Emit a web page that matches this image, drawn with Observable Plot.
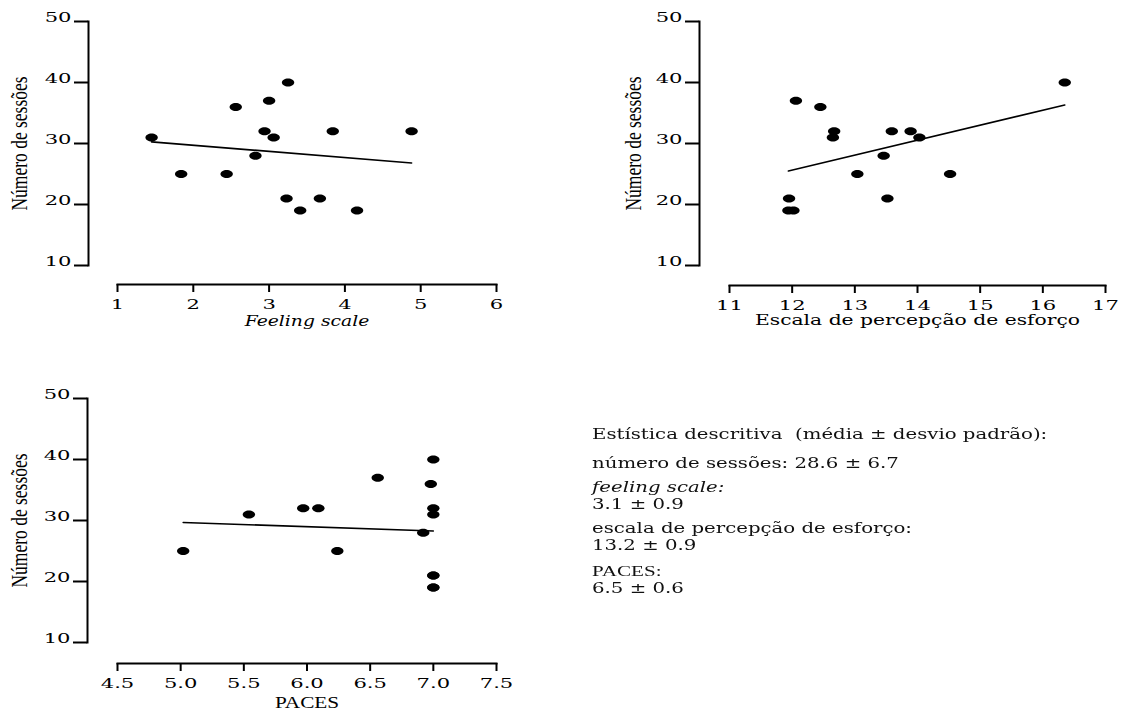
<!DOCTYPE html>
<html><head><meta charset="utf-8">
<script src="https://cdn.jsdelivr.net/npm/d3@7"></script>
<script src="https://cdn.jsdelivr.net/npm/@observablehq/plot@0.6"></script>
<style>
html,body{margin:0;padding:0;background:#fff;}
body{width:1126px;height:715px;position:relative;overflow:hidden;color:#000;}
.panel{position:absolute;}
#stats{position:absolute;left:592px;top:0;width:1px;font-family:"DejaVu Serif";font-size:14.5px;color:#111;transform:scaleX(1.36);transform-origin:0 0;}
.line{position:absolute;left:0;white-space:pre;line-height:14px;}
.times{font-family:"Liberation Serif";font-size:15.5px;}
</style></head><body>
<div id="p1" class="panel" style="left:0;top:0"></div>
<div id="p2" class="panel" style="left:600px;top:0"></div>
<div id="p3" class="panel" style="left:0;top:377px"></div>
<div id="stats"></div>
<script>
// ---- data ----
const yLabel = "Número de sessões";
const yTicks = [10, 20, 30, 40, 50];

const feelingX = [1.45,1.84,2.44,2.56,2.82,2.94,3.00,3.06,3.25,3.23,3.41,3.67,3.84,4.16,4.88];
const feelingY = [31,25,25,36,28,32,37,31,40,21,19,21,32,19,32];
const feelingTicks = [1,2,3,4,5,6];

const effortX = [11.95,11.94,12.02,12.06,12.45,12.67,12.65,13.04,13.46,13.52,13.59,13.89,14.03,14.52,16.35];
const effortY = [21,19,19,37,36,32,31,25,28,21,32,32,31,25,40];
const effortTicks = [11,12,13,14,15,16,17];

const pacesX = [5.02,5.54,5.97,6.09,6.24,6.56,6.92,6.98,7.00,7.00,7.00,7.00,7.00,7.00,7.00];
const pacesY = [25,31,32,32,25,37,28,36,40,32,31,21,21,19,19];
const pacesTicks = [4.5,5.0,5.5,6.0,6.5,7.0,7.5];

const statsTitle = "Estística descritiva  (média ± desvio padrão):";
const statNames = ["número de sessões:", "feeling scale:", "escala de percepção de esforço:", "PACES:"];
const statMeans = ["28.6", "3.1", "13.2", "6.5"];
const statSDs = ["6.7", "0.9", "0.9", "0.6"];

// ---- helpers ----
const ellipse = {
  draw(ctx, size) {
    const r = Math.sqrt(size / Math.PI);
    const rx = r * 1.55, ry = r * 1.0, k = 0.5523;
    ctx.moveTo(rx, 0);
    ctx.bezierCurveTo(rx, ry * k, rx * k, ry, 0, ry);
    ctx.bezierCurveTo(-rx * k, ry, -rx, ry * k, -rx, 0);
    ctx.bezierCurveTo(-rx, -ry * k, -rx * k, -ry, 0, -ry);
    ctx.bezierCurveTo(rx * k, -ry, rx, -ry * k, rx, 0);
    ctx.closePath();
  }
};

function stretchEl(el, sx, sy) {
  const t = el.getAttribute("transform") || "";
  const x = el.getAttribute("x"), y = el.getAttribute("y");
  let extra = "";
  if (x !== null || y !== null) {
    extra = ` translate(${+x || 0},${+y || 0})`;
    el.removeAttribute("x"); el.removeAttribute("y");
  }
  el.setAttribute("transform", `${t}${extra} scale(${sx},${sy})`);
}

function panel(o) {
  const data = o.xs.map((x, i) => ({x, y: o.ys[i]}));
  const svg = Plot.plot({
    width: o.width, height: 345,
    marginLeft: o.ml, marginRight: o.mr, marginTop: 21, marginBottom: 80,
    style: {fontFamily: "DejaVu Serif", fontSize: "13px", background: "transparent", overflow: "visible", color: "#000"},
    x: {domain: o.xDomain, label: null},
    y: {domain: [10, 50], label: null},
    marks: [
      Plot.frame({anchor: "left", dx: o.yDx, strokeWidth: 2}),
      Plot.axisY({ticks: yTicks, tickSize: 14, tickPadding: 3, dx: o.yDx, strokeWidth: 2, label: null}),
      Plot.frame({anchor: "bottom", dy: o.xDy, strokeWidth: 2}),
      Plot.axisX({ticks: o.xTicks, tickSize: 8, tickPadding: 16, dy: o.xDy, strokeWidth: 2, label: null, tickFormat: o.xFormat}),
      Plot.linearRegressionY(data, {x: "x", y: "y", ci: 0, stroke: "#000", strokeWidth: 1.6}),
      Plot.dot(data, {x: "x", y: "y", symbol: ellipse, r: 4, fill: "#000"}),
      Plot.text([yLabel], {frameAnchor: "left", dx: o.yLabelDx, rotate: -90, text: d => d,
        textAnchor: "middle", lineAnchor: "middle",
        fontFamily: "Liberation Serif", fontSize: 17.5}),
      Plot.text([o.xLabel], {frameAnchor: "bottom", dy: o.xLabelDy, text: d => d,
        textAnchor: "middle", lineAnchor: "middle",
        fontFamily: o.xLabelFont, fontSize: o.xLabelSize, fontStyle: o.xLabelStyle})
    ]
  });
  svg.querySelectorAll("text").forEach(el => {
    const s = el.textContent;
    if (s === yLabel) stretchEl(el, 1, 1.3);
    else if (s === o.xLabel) stretchEl(el, o.xLabelSx, 1);
    else stretchEl(el, 1.62, 1);
  });
  return svg;
}

document.getElementById("p1").append(panel({
  xs: feelingX, ys: feelingY, xDomain: [1, 6], xTicks: feelingTicks, xFormat: d3.format("d"),
  width: 540, ml: 117, mr: 44, yDx: -29, xDy: 19, yLabelDx: -91,
  xLabel: "Feeling scale", xLabelDy: 60, xLabelFont: "DejaVu Serif", xLabelSize: 14, xLabelStyle: "italic", xLabelSx: 1.34
}));
document.getElementById("p2").append(panel({
  xs: effortX, ys: effortY, xDomain: [11, 17], xTicks: effortTicks, xFormat: d3.format("d"),
  width: 526, ml: 129, mr: 21, yDx: -30, xDy: 20, yLabelDx: -89,
  xLabel: "Escala de percepção de esforço", xLabelDy: 59, xLabelFont: "DejaVu Serif", xLabelSize: 14, xLabelStyle: "normal", xLabelSx: 1.45
}));
document.getElementById("p3").append(panel({
  xs: pacesX, ys: pacesY, xDomain: [4.5, 7.5], xTicks: pacesTicks, xFormat: d3.format(".1f"),
  width: 540, ml: 117, mr: 44, yDx: -30, xDy: 21, yLabelDx: -91,
  xLabel: "PACES", xLabelDy: 65, xLabelFont: "Liberation Serif", xLabelSize: 17, xLabelStyle: "normal", xLabelSx: 1.25
}));

// ---- descriptive stats text ----
const stats = document.getElementById("stats");
const pm = (i) => `${statMeans[i]} ± ${statSDs[i]}`;
const lines = [
  {top: 427, html: statsTitle},
  {top: 456, html: `${statNames[0]} ${pm(0)}`},
  {top: 480, html: `<i>${statNames[1]}</i>`},
  {top: 497, html: pm(1)},
  {top: 521, html: statNames[2]},
  {top: 538, html: pm(2)},
  {top: 564, html: `<span class="times">${statNames[3]}</span>`},
  {top: 581, html: pm(3)}
];
lines.forEach(l => {
  const d = document.createElement("div");
  d.className = "line";
  d.style.top = l.top + "px";
  d.innerHTML = l.html;
  stats.append(d);
});
</script>
</body></html>
